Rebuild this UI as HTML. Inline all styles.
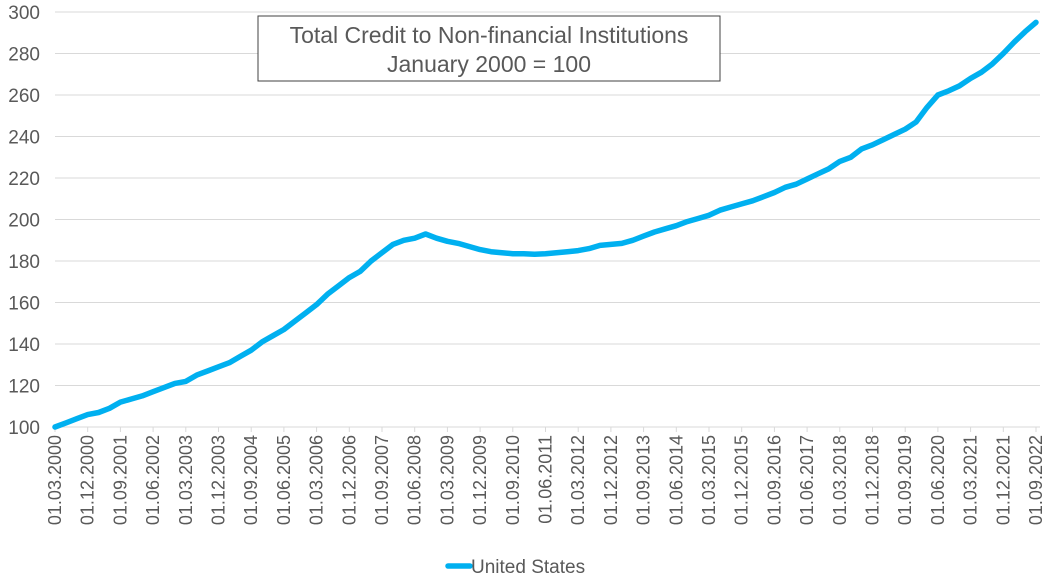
<!DOCTYPE html>
<html><head><meta charset="utf-8"><style>
html,body{margin:0;padding:0;background:#fff;}
svg{display:block;font-family:"Liberation Sans",Arial,sans-serif;}
</style></head><body>
<svg id="chart" width="1046" height="581" viewBox="0 0 1046 581" xmlns="http://www.w3.org/2000/svg">
<g id="grid"></g>
<g id="yaxis"></g>
<g id="xaxis"></g>
<path id="line" fill="none" stroke="#00b0f0" stroke-width="5.5" stroke-linejoin="round" stroke-linecap="round"/>
<g>
<rect x="258" y="16" width="462" height="65" fill="#fff" stroke="#404040" stroke-width="1"/>
<text x="489" y="43" text-anchor="middle" font-size="23" fill="#595959">Total Credit to Non-financial Institutions</text>
<text x="489" y="72" text-anchor="middle" font-size="23" fill="#595959">January 2000 = 100</text>
</g>
<g>
<line x1="448" y1="566" x2="470" y2="566" stroke="#00b0f0" stroke-width="5.5" stroke-linecap="round"/>
<text x="471" y="573" font-size="19" fill="#595959">United States</text>
</g>
</svg>
<script>
const values = [100,102,104,106,107,109,112,113.5,115,117,
119,121,122,125,127,129,131,134,137,141,
144,147,151,155,159,164,168,172,175,180,
184,188,190,191,193,191,189.5,188.5,187,185.5,
184.5,184,183.5,183.5,183.3,183.5,184,184.5,185,186,
187.5,188,188.5,190,192,194,195.5,197,199,200.5,
202,204.5,206,207.5,209,211,213,215.5,217,219.5,
222,224.5,228,230,234,236,238.5,241,243.5,247,
254,260,262,264.5,268,271,275,280,285.5,290.5,295];
const yTicks = [100,120,140,160,180,200,220,240,260,280,300];
const months = ['03','06','09','12'];
const startYear = 2000;
const labelEvery = 3;

const NS='http://www.w3.org/2000/svg';
const x0=55, x1=1036, yTop=12, yBot=427, yMin=100, yMax=300;
const n=values.length;
function xs(i){return x0+(x1-x0)*i/(n-1);}
function ys(v){return yBot-(v-yMin)/(yMax-yMin)*(yBot-yTop);}
function mk(tag,attrs,parent){const e=document.createElementNS(NS,tag);for(const k in attrs)e.setAttribute(k,attrs[k]);parent.appendChild(e);return e;}
const grid=document.getElementById('grid'), ya=document.getElementById('yaxis'), xa=document.getElementById('xaxis');
yTicks.forEach(t=>{
  const g=mk('line',{x1:x0,x2:1040,y1:ys(t),y2:ys(t),stroke:'#d9d9d9','stroke-width':1},grid);
  
  
  const tx=mk('text',{x:40,y:ys(t)+7,'text-anchor':'end','font-size':19,fill:'#595959'},ya);
  tx.textContent=t;
  
  
});
for(let i=0;i<n;i+=labelEvery){
  const m=months[i%4], y=startYear+Math.floor(i/4);
  const x=xs(i);
  const tk=mk('line',{x1:x,x2:x,y1:yBot,y2:yBot+5,stroke:'#d9d9d9'},xa);
  
  
  const tx=mk('text',{x:0,y:0,'text-anchor':'end','font-size':18,fill:'#595959',transform:`translate(${x+6},${yBot+8}) rotate(-90)`},xa);
  tx.textContent='01.'+m+'.'+y;
  
  
}
document.getElementById('line').setAttribute('d',values.map((v,i)=>(i?'L':'M')+xs(i).toFixed(1)+','+ys(v).toFixed(1)).join(''));
</script>
</body></html>
